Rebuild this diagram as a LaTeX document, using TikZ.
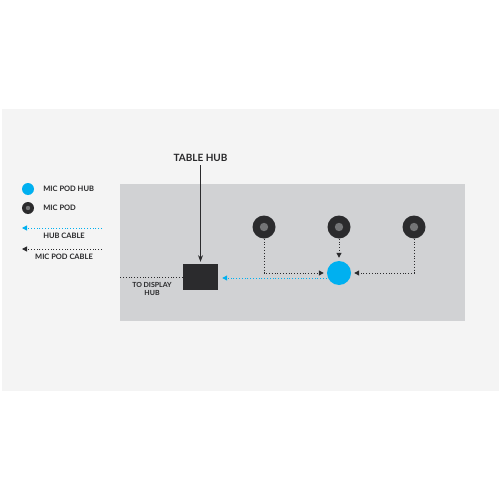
\documentclass[tikz,border=0pt]{standalone}
\usepackage{fontspec}
\setmainfont{Lato}
\usetikzlibrary{arrows.meta,positioning}
\definecolor{hubblue}{RGB}{0,176,240}
\definecolor{poddark}{RGB}{43,43,45}
\definecolor{podgrey}{RGB}{115,116,118}
\definecolor{tablegrey}{RGB}{209,210,212}
\definecolor{panelgrey}{RGB}{244,244,244}
\definecolor{textdark}{RGB}{40,40,42}

\begin{document}
\begin{tikzpicture}[x=1pt, y=-1pt, >=Stealth, font=\bfseries\fontsize{7.5}{8}\selectfont, text=textdark,
  pod/.style={circle, fill=poddark, minimum size=23pt, inner sep=0pt,
    path picture={\fill[podgrey] (path picture bounding box.center) circle (4.2pt);}},
  podhub/.style={circle, fill=hubblue, minimum size=24pt, inner sep=0pt},
  podcable/.style={draw=poddark, line width=1pt, dash pattern=on 1pt off 1.8pt, -{Triangle[length=5pt,width=5pt]}},
  hubcable/.style={draw=hubblue, line width=1pt, dash pattern=on 1pt off 1.8pt, -{Triangle[length=5pt,width=5pt]}},
  legtext/.style={anchor=west, inner sep=0pt}]

  % Achtergrond en paneel
  \fill[white] (0,0) rectangle (500,500);
  \fill[panelgrey] (2,109) rectangle (499,391);

  % Tafel
  \node[fill=tablegrey, minimum width=345pt, minimum height=137pt, inner sep=0pt] (table) at (292.5,252.5) {};

  % Table hub
  \node[fill=poddark, minimum width=35pt, minimum height=26pt, inner sep=0pt] (tablehub) at (200.5,277) {};
  \node[font=\bfseries\fontsize{10}{12}\selectfont] (hublabel) at (200.5,158) {TABLE HUB};
  \draw[->, poddark, line width=0.8pt, shorten >=2pt] (hublabel) -- (tablehub);

  % Mic pods en mic pod hub
  \node[pod] (pod1) at (264,227) {};
  \node[pod] (pod2) at (339,227) {};
  \node[pod] (pod3) at (414,227) {};
  \node[podhub] (mphub) at (339,273) {};

  % Kabels
  \draw[podcable, shorten >=3pt] (pod1) |- (mphub);
  \draw[podcable, shorten >=3pt] (pod2) -- (mphub);
  \draw[podcable, shorten >=3pt] (pod3) |- (mphub);
  \draw[hubcable, shorten >=4pt] (mphub.west |- 0,278) -- (tablehub.east |- 0,278);
  \draw[draw=poddark, line width=1pt, dash pattern=on 1pt off 1.8pt] (tablehub.west) -- (tablehub.west -| table.west);
  \node[align=center, inner sep=0pt, font=\bfseries\fontsize{7}{8}\selectfont] (display) at (152,289) {TO DISPLAY\\HUB};

  % Legenda
  \node[circle, fill=hubblue, minimum size=12pt, inner sep=0pt] (legblue) at (28,189) {};
  \node[legtext, right=9pt of legblue] (legbluetext) {MIC POD HUB};
  \node[circle, fill=poddark, minimum size=12pt, inner sep=0pt,
    path picture={\fill[podgrey] (path picture bounding box.center) circle (2.2pt);}] (legpod) at (28,208) {};
  \node[legtext, right=9pt of legpod] (legpodtext) {MIC POD};
  \coordinate (leghuba) at (102,228);
  \coordinate (leghubb) at (22,228);
  \draw[hubcable] (leghuba) -- (leghubb);
  \node[inner sep=0pt] (leghubtext) at (64,236) {HUB CABLE};
  \coordinate (legpoda) at (102,249);
  \coordinate (legpodb) at (22,249);
  \draw[podcable] (legpoda) -- (legpodb);
  \node[inner sep=0pt] (legpodcable) at (64,257) {MIC POD CABLE};
\end{tikzpicture}
\end{document}
